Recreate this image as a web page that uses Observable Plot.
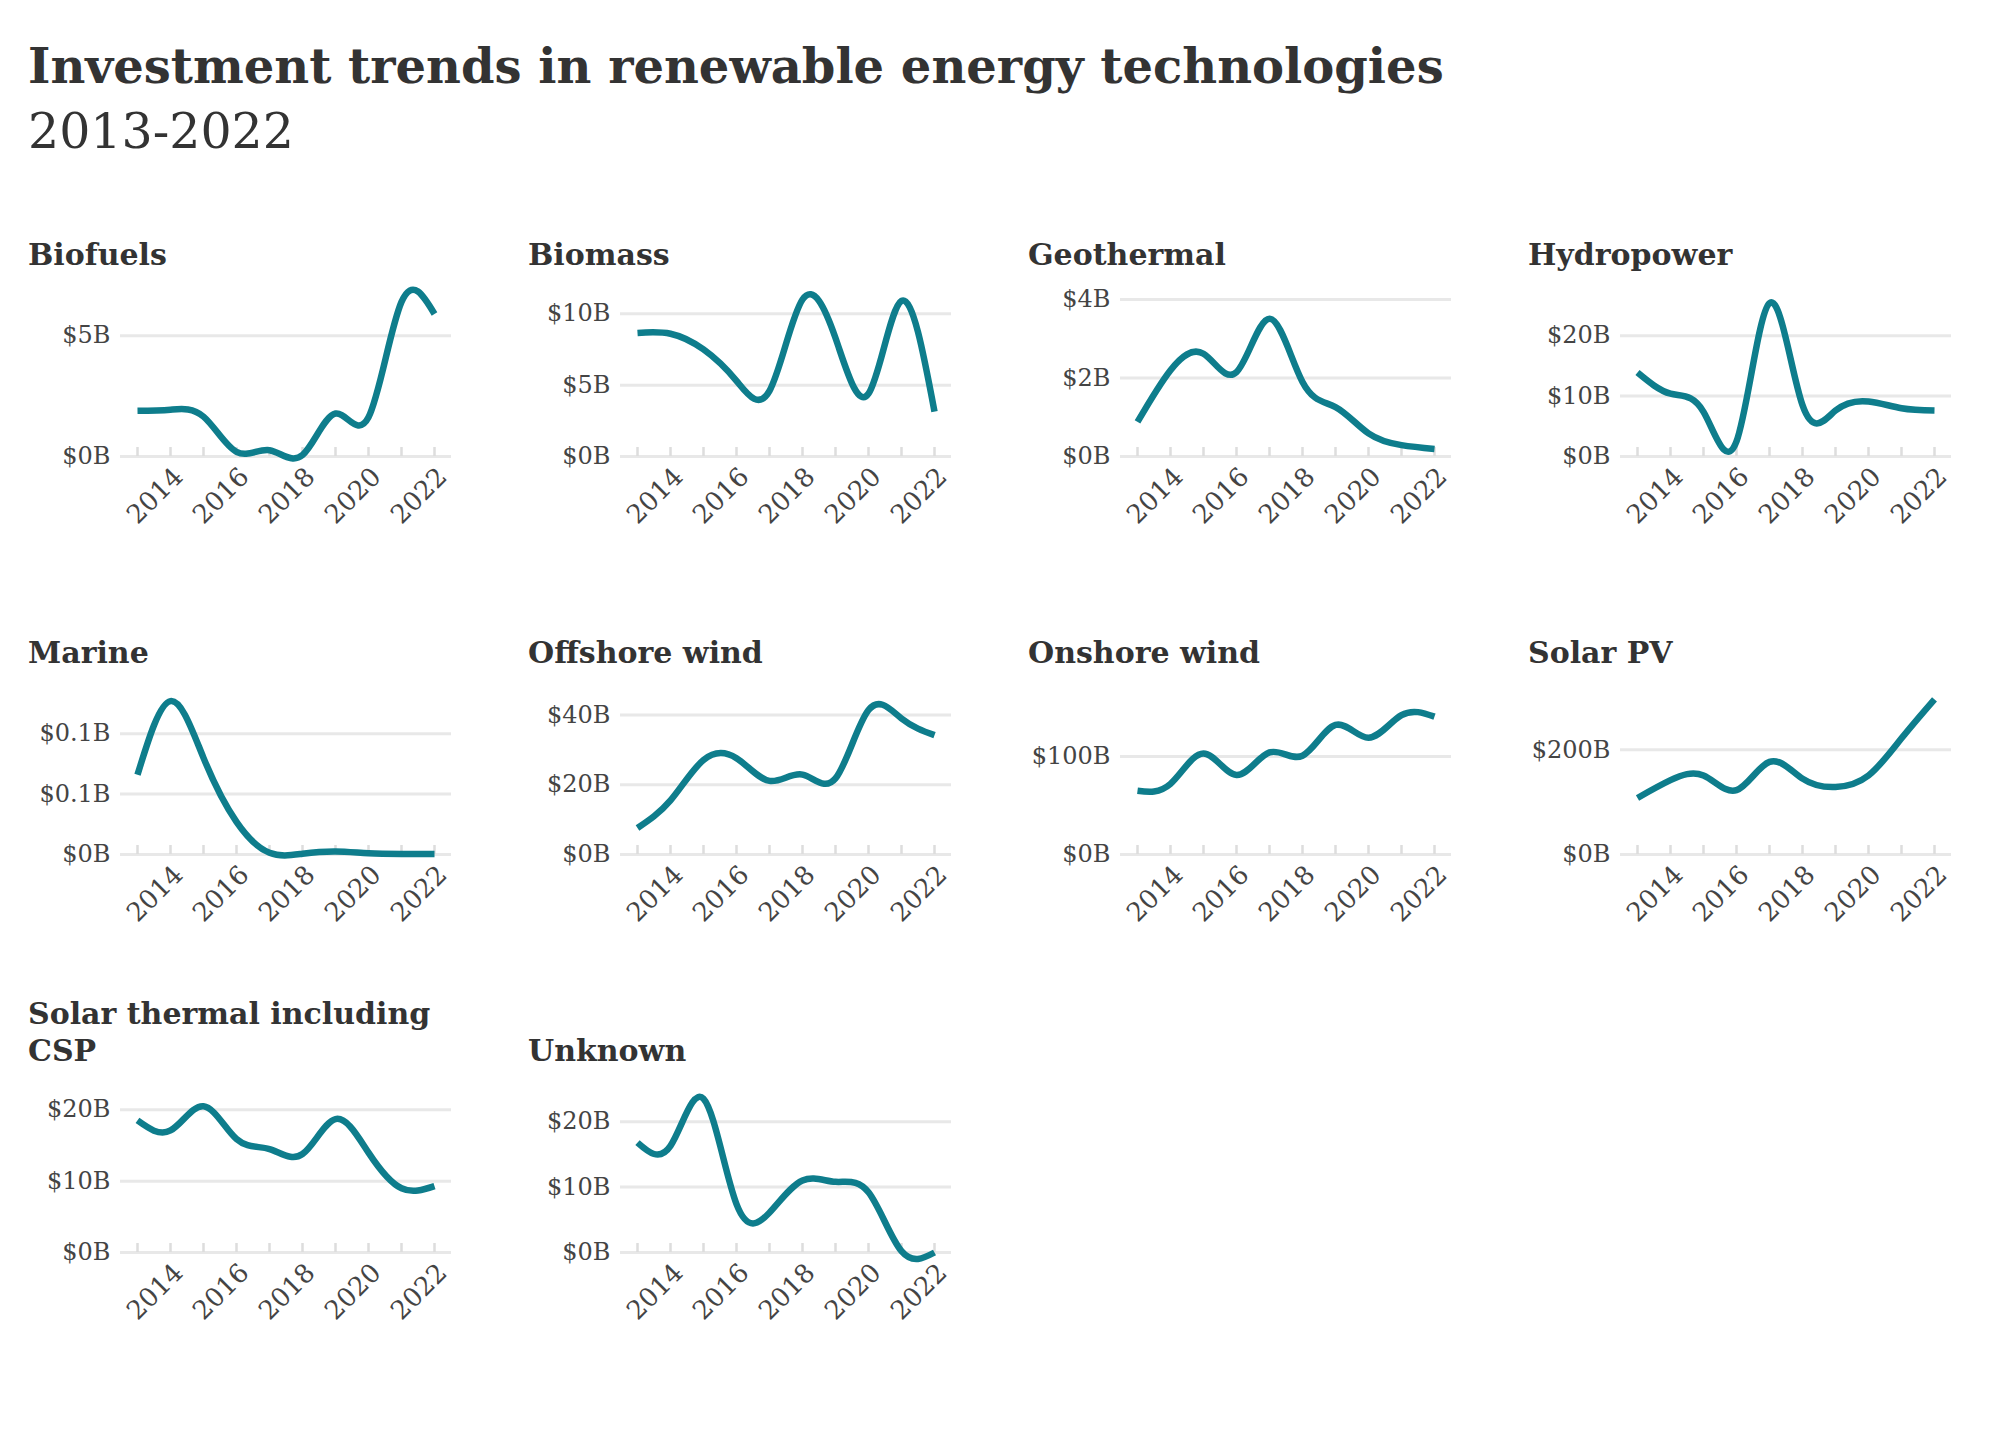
<!DOCTYPE html>
<html>
<head>
<meta charset="utf-8">
<script src="https://cdn.jsdelivr.net/npm/d3@7"></script>
<script src="https://cdn.jsdelivr.net/npm/@observablehq/plot@0.6"></script>
<style>
  html, body { margin: 0; padding: 0; background: #ffffff; }
  body { font-family: "DejaVu Serif", "Liberation Serif", serif; color: #333333; width: 2000px; }
  #wrap { padding: 37px 0 0 28px; }
  #title { font-size: 48px; font-weight: bold; line-height: 58px; margin: 0; color: #333333; }
  #subtitle { font-size: 49px; font-weight: normal; line-height: 66px; margin: 4px 0 0 0; color: #333333; }
  #grid { display: grid; grid-template-columns: repeat(4, 500px); row-gap: 66px; margin-top: 34px; }
  .panel { width: 440px; height: 332px; display: flex; flex-direction: column; justify-content: flex-end; }
  .ptitle { font-size: 30px; font-weight: bold; line-height: 37px; margin-bottom: 11px; color: #333333; }
  .panel svg { display: block; flex: none; }
</style>
</head>
<body>
<div id="wrap">
  <div id="title">Investment trends in renewable energy technologies</div>
  <div id="subtitle">2013-2022</div>
  <div id="grid"></div>
</div>
<script>
// ---- data (billions of USD) ----
const years = [2013, 2014, 2015, 2016, 2017, 2018, 2019, 2020, 2021, 2022];
const labelYears = [2014, 2016, 2018, 2020, 2022];

const technologies = [
  "Biofuels", "Biomass", "Geothermal", "Hydropower",
  "Marine", "Offshore wind", "Onshore wind", "Solar PV",
  "Solar thermal including CSP", "Unknown"
];

const biofuels     = [1.89, 1.94, 1.65, 0.19, 0.26, 0.06, 1.78, 1.62, 6.4, 5.9];
const biomass      = [8.66, 8.6, 7.5, 5.3, 4.6, 11.0, 8.3, 4.4, 10.9, 3.15];
const geothermal   = [0.88, 2.2, 2.62, 2.15, 3.51, 1.9, 1.26, 0.59, 0.29, 0.19];
const hydropower   = [13.9, 10.4, 7.4, 2.5, 25.4, 8.5, 7.6, 9.1, 8.0, 7.6];
const marine       = [0.066, 0.127, 0.080, 0.027, 0.0014, 0.0006, 0.0025, 0.001, 0.0005, 0.0005];
const offshoreWind = [7.6, 15.5, 27.1, 27.6, 21.1, 22.9, 21.8, 41.4, 39.0, 34.2];
const onshoreWind  = [65, 72, 103, 81, 104, 100.7, 132, 119, 142, 140.5];
const solarPV      = [108, 142, 151, 123, 177, 145, 129, 151, 222, 296.5];
const solarThermal = [18.5, 17.1, 20.5, 15.9, 14.5, 13.8, 18.7, 14.0, 9.0, 9.3];
const unknown      = [16.8, 16.3, 23.5, 7.4, 6.1, 11.0, 10.8, 9.2, 0.2, 0.0];

const seriesValues = [
  biofuels, biomass, geothermal, hydropower,
  marine, offshoreWind, onshoreWind, solarPV,
  solarThermal, unknown
];

// ---- styles ----
const lineColor = "#0e7d8c";
const fontStack = "'DejaVu Serif', 'Liberation Serif', serif";
const fmt = d => "$" + d3.format(".1~f")(d) + "B";

const grid = document.getElementById("grid");

technologies.forEach((name, i) => {
  const rows = years.map((year, j) => ({year, value: seriesValues[i][j]}));

  const panel = document.createElement("div");
  panel.className = "panel";
  const t = document.createElement("div");
  t.className = "ptitle";
  t.textContent = name;
  panel.appendChild(t);

  const chart = Plot.plot({
    width: 440,
    height: 247,
    marginLeft: 92,
    marginRight: 17,
    marginTop: 15,
    marginBottom: 75,
    style: {fontFamily: fontStack, fontSize: "24px", color: "#444444", background: "transparent", overflow: "visible"},
    x: {domain: [2013, 2022], inset: 17, label: null},
    y: {zero: true, nice: true, label: null},
    marks: [
      Plot.gridY({ticks: 2, stroke: "#e8e8e8", strokeOpacity: 1, strokeWidth: 3}),
      Plot.axisY({ticks: 2, tickSize: 0, tickPadding: 10, tickFormat: fmt, fontSize: 24, fill: "#444444", label: null}),
      Plot.axisX(years, {tickSize: -9, tickFormat: () => "", stroke: "#dddddd", strokeWidth: 2.5, label: null}),
      Plot.axisX(labelYears, {tickSize: 0, tickPadding: 10, tickRotate: -45, tickFormat: d => String(d), fontSize: 26, fill: "#444444", label: null, dx: 8, dy: 6}),
      Plot.lineY(rows, {x: "year", y: "value", curve: "natural", stroke: lineColor, strokeWidth: 6.5, strokeLinecap: "butt"})
    ]
  });
  panel.appendChild(chart);
  grid.appendChild(panel);
});
</script>
</body>
</html>
